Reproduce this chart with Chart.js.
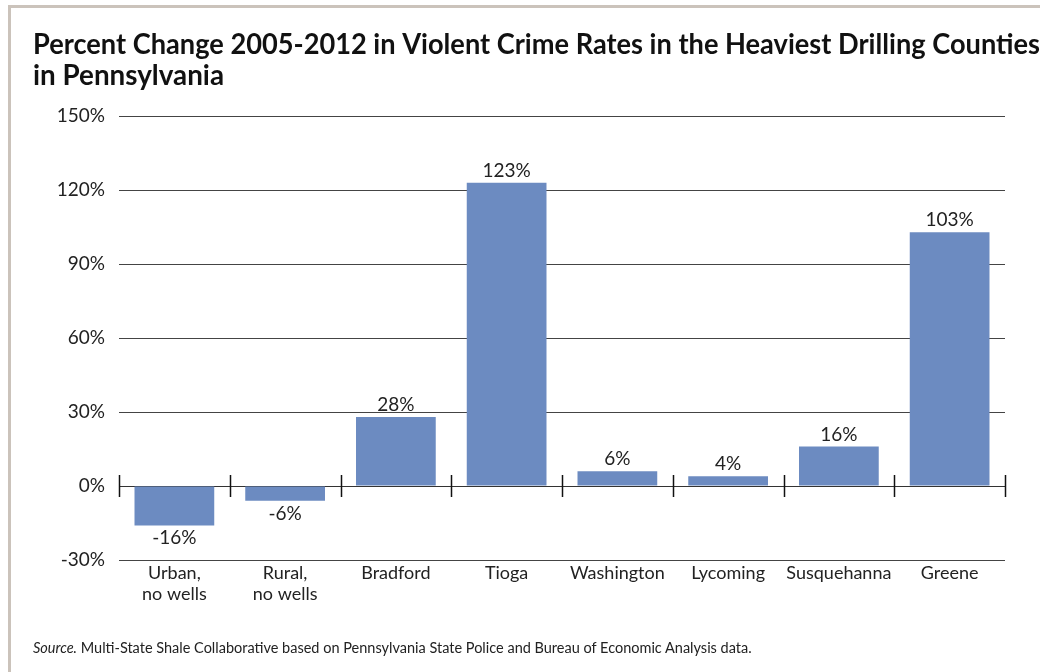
<!DOCTYPE html>
<html>
<head>
<meta charset="utf-8">
<script src="https://cdn.jsdelivr.net/npm/chart.js@4"></script>
<style>
  html, body { margin: 0; padding: 0; background: #fff; }
  body { width: 1040px; height: 672px; position: relative; overflow: hidden; }
  #frame { position: absolute; left: 8px; top: 5px; right: -10px; bottom: -10px;
           border-left: 3px solid #cbc3bb; border-top: 3px solid #cbc3bb; }
  #wrap { position: absolute; left: 0; top: 0; width: 1040px; height: 672px; }
  #source { position: absolute; left: 33px; top: 639px; font: 14.5px Lato, sans-serif; color: #222; }
</style>
</head>
<body>
<div id="frame"></div>
<div id="wrap"><canvas id="crime_chart"></canvas></div>
<div id="source"><i>Source.</i> Multi-State Shale Collaborative based on Pennsylvania State Police and Bureau of Economic Analysis data.</div>
<script>
// data
let categories = [["Urban,", "no wells"], ["Rural,", "no wells"], "Bradford", "Tioga", "Washington", "Lycoming", "Susquehanna", "Greene"];
let pctChange = [-16, -6, 28, 123, 6, 4, 16, 103];
let yTicks = [-30, 0, 30, 60, 90, 120, 150];

// value labels on bars
let barLabels = {
  id: "barLabels",
  afterDatasetsDraw(chart) {
    let ctx = chart.ctx;
    let meta = chart.getDatasetMeta(0);
    ctx.save();
    ctx.font = "19px Lato, sans-serif";
    ctx.fillStyle = "#222";
    ctx.textAlign = "center";
    ctx.textBaseline = "alphabetic";
    meta.data.forEach(function(bar, i) {
      let v = pctChange[i];
      if (v >= 0) {
        ctx.fillText(v + "%", bar.x, bar.y - 6);
      } else {
        ctx.fillText(v + "%", bar.x, bar.y + 19);
      }
    });
    ctx.restore();
  }
};

// tick marks on the zero line between categories
let zeroTicks = {
  id: "zeroTicks",
  afterDatasetsDraw(chart) {
    let ctx = chart.ctx;
    let x = chart.scales.x;
    let y0 = chart.scales.y.getPixelForValue(0);
    ctx.save();
    ctx.strokeStyle = "#111";
    ctx.lineWidth = 1.5;
    ctx.beginPath();
    for (let i = 0; i <= categories.length; i++) {
      let px = Math.round(x.getPixelForValue(i - 0.5)) + 0.5;
      ctx.moveTo(px, y0 - 11);
      ctx.lineTo(px, y0 + 11);
    }
    ctx.stroke();
    ctx.restore();
  }
};

new Chart(document.getElementById("crime_chart"), {
  type: "bar",
  data: {
    labels: categories,
    datasets: [{
      data: pctChange,
      backgroundColor: "#6c8bc1",
      barPercentage: 0.72,
      categoryPercentage: 1
    }]
  },
  options: {
    responsive: true,
    maintainAspectRatio: false,
    animation: false,
    layout: { padding: { left: 33, right: 0, top: 10, bottom: 60 } },
    scales: {
      x: {
        grid: { display: false, drawTicks: false },
        border: { display: false },
        ticks: { color: "#222", font: { family: "Lato", size: 18, lineHeight: 1.17 }, padding: 3, maxRotation: 0, autoSkip: false },
        afterFit(scale) { scale.height = 52; }
      },
      y: {
        min: -30,
        max: 150,
        afterBuildTicks(scale) { scale.ticks = yTicks.map(v => ({ value: v })); },
        grid: {
          color: ctx => ctx.tick && ctx.tick.value === 0 ? "#333" : "#444",
          lineWidth: 1,
          drawTicks: false
        },
        border: { display: false },
        ticks: {
          color: "#222",
          font: { family: "Lato", size: 19 },
          padding: 14,
          callback: v => v + "%"
        },
        afterFit(scale) { scale.width = 86; }
      },
      // empty right axis, only keeps a gap right of the plot
      gap: {
        position: "right",
        min: -30,
        max: 150,
        grid: { display: false, drawTicks: false },
        border: { display: false },
        ticks: { display: false },
        afterFit(scale) { scale.width = 35; }
      }
    },
    plugins: {
      legend: { display: false },
      tooltip: { enabled: false },
      title: {
        display: true,
        align: "start",
        text: ["Percent Change 2005-2012 in Violent Crime Rates in the Heaviest Drilling Counties", "in Pennsylvania"],
        color: "#111",
        font: { family: "Lato", size: 27.8, weight: "bold", lineHeight: 1.12 },
        padding: { top: 19, bottom: 25 }
      }
    }
  },
  plugins: [barLabels, zeroTicks]
});
</script>
</body>
</html>
